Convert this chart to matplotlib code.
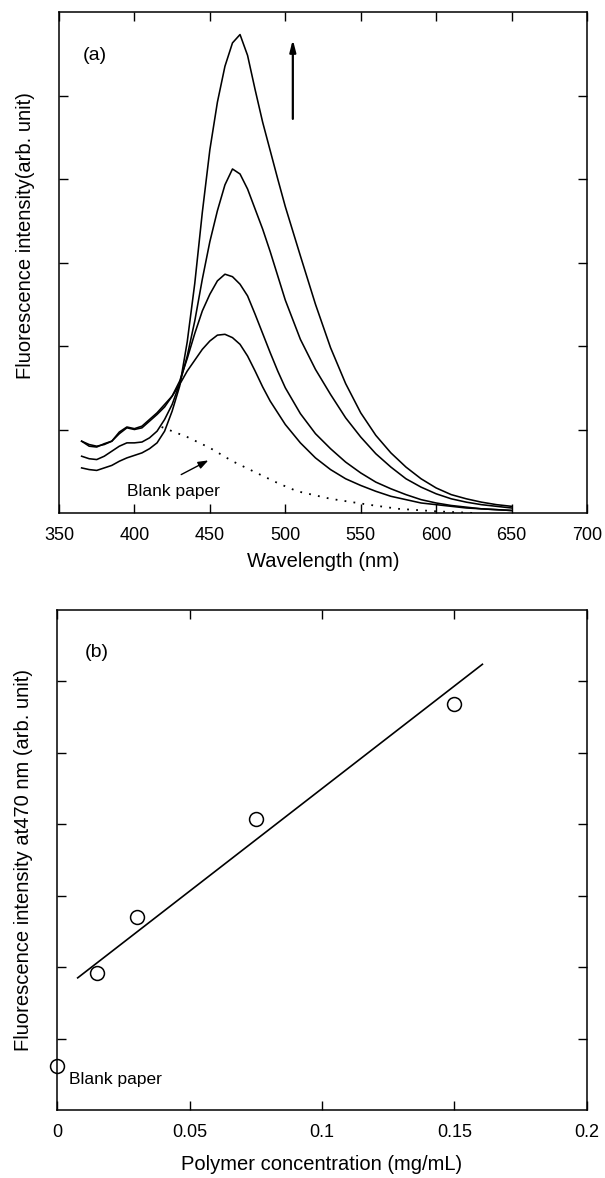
import matplotlib
matplotlib.use('Agg')
import matplotlib.pyplot as plt
from matplotlib.ticker import FixedLocator, NullFormatter

plt.rcParams['font.family'] = ['Liberation Sans', 'DejaVu Sans']

# (a) emission spectra
wl = [365, 370, 375, 380, 385, 390, 395, 400, 405, 410, 415, 420, 425, 430, 435, 440,
      445, 450, 455, 460, 465, 470, 475, 480, 485, 490, 495, 500, 510, 520, 530, 540,
      550, 560, 570, 580, 590, 600, 610, 620, 630, 640, 650]
spec1 = [0.54, 0.52, 0.51, 0.54, 0.57, 0.62, 0.66, 0.69, 0.72, 0.77, 0.84, 0.98, 1.22, 1.52, 2.05, 2.75,
         3.60, 4.35, 4.92, 5.35, 5.63, 5.73, 5.48, 5.07, 4.68, 4.34, 4.00, 3.67, 3.08, 2.50, 1.98, 1.55,
         1.20, 0.93, 0.72, 0.55, 0.41, 0.30, 0.22, 0.17, 0.13, 0.10, 0.08]
spec2 = [0.68, 0.65, 0.64, 0.68, 0.74, 0.80, 0.84, 0.84, 0.85, 0.90, 0.98, 1.12, 1.30, 1.55, 1.88, 2.30,
         2.80, 3.25, 3.62, 3.93, 4.12, 4.06, 3.88, 3.64, 3.40, 3.13, 2.84, 2.55, 2.08, 1.72, 1.42, 1.14,
         0.91, 0.71, 0.55, 0.41, 0.31, 0.23, 0.17, 0.13, 0.10, 0.08, 0.06]
spec3 = [0.86, 0.82, 0.80, 0.82, 0.86, 0.95, 1.02, 1.00, 1.02, 1.10, 1.18, 1.27, 1.40, 1.58, 1.85, 2.15,
         2.42, 2.62, 2.78, 2.86, 2.83, 2.74, 2.60, 2.38, 2.15, 1.92, 1.70, 1.50, 1.19, 0.95, 0.77, 0.61,
         0.48, 0.37, 0.29, 0.22, 0.16, 0.12, 0.09, 0.07, 0.05, 0.04, 0.03]
spec4 = [0.86, 0.80, 0.79, 0.83, 0.86, 0.97, 1.03, 1.01, 1.04, 1.12, 1.20, 1.30, 1.40, 1.54, 1.70, 1.83,
         1.96, 2.06, 2.13, 2.14, 2.10, 2.02, 1.88, 1.70, 1.51, 1.34, 1.20, 1.06, 0.84, 0.66, 0.52, 0.41,
         0.33, 0.26, 0.20, 0.16, 0.12, 0.10, 0.08, 0.06, 0.05, 0.04, 0.03]
blank_wl = [418, 425, 435, 450, 465, 481, 496, 508, 530, 555, 575, 600, 625]
blank_int = [1.03, 0.98, 0.91, 0.78, 0.62, 0.48, 0.35, 0.26, 0.17, 0.10, 0.05, 0.02, 0.0]

# (b) intensity at 470 nm vs polymer concentration
conc = [0.0, 0.015, 0.03, 0.075, 0.15]
i470 = [0.61, 1.92, 2.70, 4.07, 5.68]
fit_x = [0.0077, 0.1606]
fit_y = [1.85, 6.24]

wl_ticks = [350, 400, 450, 500, 550, 600, 650, 700]
conc_ticks = [0, 0.05, 0.1, 0.15, 0.2]
conc_labels = ['0', '0.05', '0.1', '0.15', '0.2']

fig = plt.figure(figsize=(6.05, 11.78), dpi=100)
ax1 = fig.add_axes([59 / 605, 1 - 513 / 1178, 528 / 605, 501 / 1178])
ax2 = fig.add_axes([57.3 / 605, 1 - 1110 / 1178, 529.4 / 605, 500 / 1178])


def style(ax):
    for s in ax.spines.values():
        s.set_linewidth(1.1)
    ax.tick_params(which='both', direction='in', top=True, right=True,
                   length=6.5, width=1.0, labelsize=13, pad=10)


# top panel
for sp in [spec1, spec2, spec3, spec4]:
    ax1.plot(wl, sp, color='black', lw=1.15)
ax1.plot(blank_wl, blank_int, color='black', lw=1.3, linestyle=(0, (1, 4)))
ax1.set_xlim(350, 700)
ax1.set_ylim(0, 6)
ax1.set_xticks(wl_ticks)
ax1.yaxis.set_major_locator(FixedLocator([1, 2, 3, 4, 5]))
ax1.yaxis.set_major_formatter(NullFormatter())
style(ax1)
ax1.set_xlabel('Wavelength (nm)', fontsize=14.5, labelpad=6)
ax1.set_ylabel('Fluorescence intensity(arb. unit)', fontsize=14.5)
ax1.yaxis.set_label_coords(-0.045, 0.554)
ax1.text(374, 5.48, '(a)', fontsize=14, ha='center', va='center')
ax1.annotate('', xy=(505, 5.67), xytext=(505, 4.72),
             arrowprops=dict(arrowstyle='-|>,head_length=0.7,head_width=0.18',
                             lw=1.6, color='black', shrinkA=0, shrinkB=0))
ax1.annotate('', xy=(449, 0.63), xytext=(431, 0.46),
             arrowprops=dict(arrowstyle='-|>,head_length=0.6,head_width=0.22',
                             lw=1.0, color='black', shrinkA=0, shrinkB=0))
ax1.text(426, 0.26, 'Blank paper', fontsize=12.5, ha='center', va='center')

# bottom panel
ax2.plot(fit_x, fit_y, color='black', lw=1.2)
ax2.plot(conc, i470, 'o', ms=10, mfc='white', mec='black', mew=1.1, clip_on=False)
ax2.set_xlim(0, 0.2)
ax2.set_ylim(0, 7)
ax2.set_xticks(conc_ticks)
ax2.set_xticklabels(conc_labels)
ax2.yaxis.set_major_locator(FixedLocator([1, 2, 3, 4, 5, 6]))
ax2.yaxis.set_major_formatter(NullFormatter())
style(ax2)
ax2.set_xlabel('Polymer concentration (mg/mL)', fontsize=14.5, labelpad=10)
ax2.set_ylabel('Fluorescence intensity at470 nm (arb. unit)', fontsize=14.5)
ax2.yaxis.set_label_coords(-0.045, 0.5)
ax2.text(0.0149, 6.40, '(b)', fontsize=14, ha='center', va='center')
ax2.text(0.0045, 0.43, 'Blank paper', fontsize=12.5, ha='left', va='center')

fig.savefig('out.png', dpi=100)
